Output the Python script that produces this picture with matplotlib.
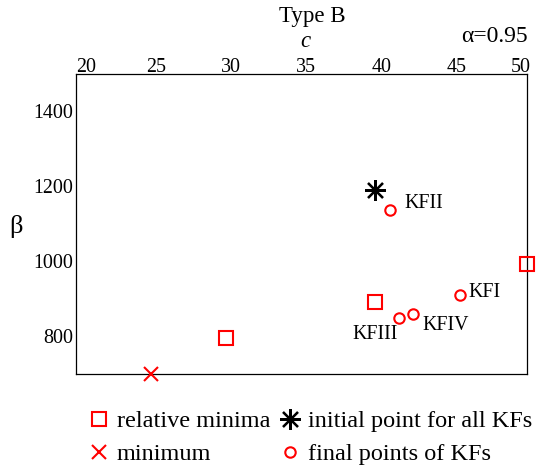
import matplotlib
matplotlib.use("Agg")
import matplotlib.pyplot as plt

plt.rcParams['font.family'] = ['Liberation Serif', 'DejaVu Serif']

# data
rel_min_c = [30.0, 39.9, 50.0]
rel_min_b = [795, 891, 993]
min_c = [25.0]
min_b = [700]
init_c = [39.9]
init_b = [1190]
final_labels = ['KFI', 'KFII', 'KFIII', 'KFIV']
final_c = [45.55, 40.9, 41.5, 42.45]
final_b = [911, 1136, 848, 860]
xticks = [20, 25, 30, 35, 40, 45, 50]
yticks = [800, 1000, 1200, 1400]

W, H = 536, 466
fig = plt.figure(figsize=(W / 100, H / 100), dpi=100)
L, R, T, B = 76, 527, 74, 373.5
ax = fig.add_axes([L / W, 1 - B / H, (R - L) / W, (B - T) / H])

red = '#ff0000'
h1, = ax.plot(rel_min_c, rel_min_b, 's', ms=10.5, mfc='none', mec=red, mew=1.5,
              ls='none', clip_on=False, label='relative minima', zorder=5)
h2, = ax.plot(min_c, min_b, 'x', ms=10, mec=red, mew=1.5, ls='none',
              clip_on=False, label='minimum', zorder=5)
h3, = ax.plot(init_c, init_b, marker=(8, 2, 0), ms=15, color='black', mew=1.6,
              ls='none', clip_on=False, label='initial point for all KFs', zorder=5)
h4, = ax.plot(final_c, final_b, 'o', ms=7.5, mfc='none', mec=red, mew=1.5,
              ls='none', clip_on=False, label='final points of KFs', zorder=5)

offsets = {'KFI': (6.3, 1.4, 'left'),
           'KFII': (9.9, 4.8, 'left'),
           'KFIII': (-17, -12, 'center'),
           'KFIV': (6.7, -8.9, 'left')}
for lab, c, b in zip(final_labels, final_c, final_b):
    dx, dy, ha = offsets[lab]
    ax.annotate(lab, (c, b), xytext=(dx, dy), textcoords='offset points',
                ha=ha, va='center', fontsize=14.3)

ax.set_xlim(20, 50)
ax.set_ylim(700, 1500)
ax.set_xticks(xticks)
ax.set_yticks(yticks)
ax.tick_params(axis='x', length=0, labelbottom=False, labeltop=False)
ax.tick_params(axis='y', length=0, labelsize=14.4, pad=2.2)
# top tick labels, drawn at the data positions of the ticks
for v in xticks:
    if v == xticks[0]:
        ha, dx = 'left', 0
    elif v == xticks[-1]:
        ha, dx = 'right', 2.5
    else:
        ha, dx = 'center', 3.3
    ax.annotate(str(v), (v, 1), xycoords=('data', 'axes fraction'),
                xytext=(dx, 1.8), textcoords='offset points',
                ha=ha, va='baseline', fontsize=14.4, annotation_clip=False)
for s in ax.spines.values():
    s.set_linewidth(0.9)

fig.text(312 / W, 1 - 22 / H, 'Type B', ha='center', va='baseline', fontsize=16.5)
fig.text(305 / W, 1 - 47 / H, 'c', ha='center', va='baseline', fontsize=16.5, style='italic')
fig.text(528 / W, 1 - 42 / H, 'α=0.95', ha='right', va='baseline', fontsize=17)
fig.text(16 / W, 1 - 227 / H, 'β', ha='center', va='center', fontsize=19)

fig.legend(handles=[h1, h2, h3, h4], ncol=2, loc='upper left',
           bbox_to_anchor=(91.4 / W, 1 - 410 / H), frameon=False, fontsize=17.5,
           handlelength=0.6, handletextpad=0.45, columnspacing=0.5,
           labelspacing=0.46, borderpad=0, borderaxespad=0)

fig.savefig('out.png', dpi=100)
